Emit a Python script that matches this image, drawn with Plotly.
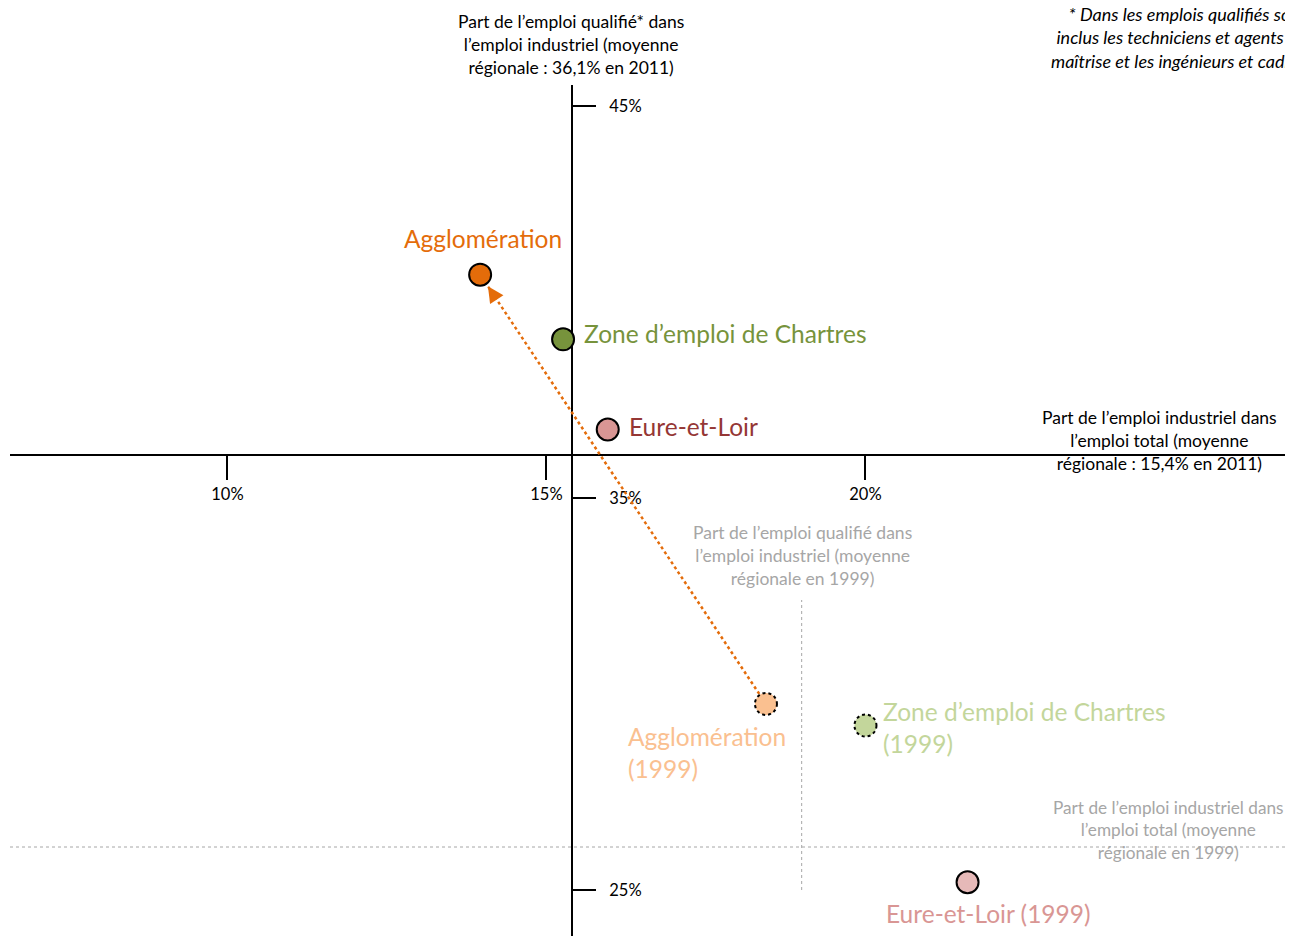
import plotly.graph_objects as go

# data
zones = ["Agglomération", "Zone d’emploi de Chartres", "Eure-et-Loir"]
ind_2011 = [13.96, 15.26, 15.96]     # part de l'emploi industriel dans l'emploi total (%)
qual_2011 = [40.7, 39.05, 36.75]     # part de l'emploi qualifié dans l'emploi industriel (%)
ind_1999 = [18.44, 20.0, 21.6]
qual_1999 = [29.75, 29.2, 25.2]

reg_ind_2011 = 15.4
reg_qual_2011 = 36.1
reg_ind_1999 = 19.0
reg_qual_1999 = 26.1

x_ticks = [10, 15, 20]
y_ticks = [25, 35, 45]

col_2011 = ["#E46C0A", "#77933C", "#D99694"]
lab_2011 = ["#E46C0A", "#77933C", "#953735"]
col_1999 = ["#FAC090", "#C3D69B", "#E6B9B8"]
lab_1999 = ["#FAC090", "#C3D69B", "#D99694"]

W, H = 1293, 936
OFF = 8          # page margin around the figure
FONT = "Lato"


def px(sx):
    return (sx - OFF) / W


def py(sy):
    return 1 - (sy - OFF) / H


# axis geometry (screen pixels)
x_px_per = 63.8
y_px_per = 39.2
x_cross = 572 - OFF
y_cross = 455 - OFF
x_dom_left = 10 - OFF
y_dom_top = 85 - OFF
x_range = [reg_ind_2011 - (x_cross - x_dom_left) / x_px_per,
           reg_ind_2011 + (W - x_cross) / x_px_per]
y_range = [reg_qual_2011 - (H - y_cross) / y_px_per,
           reg_qual_2011 + (y_cross - y_dom_top) / y_px_per]

fig = go.Figure()

# evolution of the agglomeration (dotted line)
fig.add_trace(go.Scatter(
    x=[ind_1999[0], ind_2011[0]], y=[qual_1999[0], qual_2011[0]],
    mode="lines", line=dict(color="#E46C0A", width=2.5, dash="dot"),
    hoverinfo="skip"))

fig.add_trace(go.Scatter(
    x=ind_1999, y=qual_1999, mode="markers",
    marker=dict(size=22, color=col_1999,
                line=dict(color=["rgba(0,0,0,0)", "rgba(0,0,0,0)", "black"], width=2)),
    text=zones, hoverinfo="text"))

fig.add_trace(go.Scatter(
    x=ind_2011, y=qual_2011, mode="markers",
    marker=dict(size=22, color=col_2011, line=dict(color="black", width=2)),
    text=zones, hoverinfo="text"))

# dotted outlines for two 1999 markers
for i in [0, 1]:
    fig.add_shape(type="circle", xref="x", yref="y",
                  xsizemode="pixel", ysizemode="pixel",
                  xanchor=ind_1999[i], yanchor=qual_1999[i],
                  x0=-11, x1=11, y0=-11, y1=11,
                  line=dict(color="black", width=2, dash="dot"))

# 1999 regional reference lines
fig.add_shape(type="line", xref="x", yref="paper",
              x0=reg_ind_1999, x1=reg_ind_1999, y0=py(890), y1=py(600),
              line=dict(color="#A6A6A6", width=1, dash="dot"), layer="below")
fig.add_shape(type="line", xref="paper", yref="y",
              x0=px(10), x1=1, y0=reg_qual_1999, y1=reg_qual_1999,
              line=dict(color="#A6A6A6", width=1, dash="dot"), layer="below")

# arrowhead at the 2011 end
dx = (ind_1999[0] - ind_2011[0]) * x_px_per
dy = (qual_1999[0] - qual_2011[0]) * y_px_per
norm = (dx ** 2 + dy ** 2) ** 0.5
L = 60
fig.add_annotation(x=ind_2011[0], y=qual_2011[0], xref="x", yref="y",
                   ax=dx / norm * L, ay=-dy / norm * L, axref="pixel", ayref="pixel",
                   text="", showarrow=True, arrowhead=2, arrowsize=1.6, arrowwidth=2,
                   arrowcolor="#E46C0A", standoff=14, startstandoff=34)

# point labels
labels_2011 = [
    dict(text=zones[0], xshift=3, yshift=36, xanchor="center"),
    dict(text=zones[1], xshift=19, yshift=6, xanchor="left"),
    dict(text=zones[2], xshift=19, yshift=3, xanchor="left"),
]
for i, lab in enumerate(labels_2011):
    fig.add_annotation(x=ind_2011[i], y=qual_2011[i], xref="x", yref="y",
                       showarrow=False, yanchor="middle", align="left",
                       font=dict(family=FONT, size=24.5, color=lab_2011[i]), **lab)

labels_1999 = [
    dict(text=zones[0] + "<br>(1999)", xshift=-140, yshift=-49, xanchor="left"),
    dict(text=zones[1] + "<br>(1999)", xshift=16, yshift=-2, xanchor="left"),
    dict(text=zones[2] + " (1999)", xshift=21, yshift=-31, xanchor="center"),
]
for i, lab in enumerate(labels_1999):
    fig.add_annotation(x=ind_1999[i], y=qual_1999[i], xref="x", yref="y",
                       showarrow=False, yanchor="middle", align="left",
                       font=dict(family=FONT, size=24.5, color=lab_1999[i]), **lab)

# axis titles and notes (screen position of the text centre / right edge)
notes = [
    ("Part de l’emploi qualifié* dans<br>l’emploi industriel (moyenne<br>régionale : 36,1% en 2011)",
     571, 45, "center", "black", 17.5, False),
    ("Part de l’emploi industriel dans<br>l’emploi total (moyenne<br>régionale : 15,4% en 2011)",
     1159, 440, "center", "black", 17.5, False),
    ("Part de l’emploi qualifié dans<br>l’emploi industriel (moyenne<br>régionale en 1999)",
     802, 555, "center", "#A6A6A6", 17.5, False),
    ("Part de l’emploi industriel dans<br>l’emploi total (moyenne<br>régionale en 1999)",
     1168, 830, "center", "#A6A6A6", 17.2, False),
    ("* Dans les emplois qualifiés sont<br>inclus les techniciens et agents de<br>maîtrise et les ingénieurs et cadres",
     1309, 38, "right", "black", 18, True),
]
for text, sx, sy, xa, color, size, italic in notes:
    fig.add_annotation(x=px(sx), y=py(sy), xref="paper", yref="paper",
                       text=f"<i>{text}</i>" if italic else text,
                       showarrow=False, xanchor=xa, yanchor="middle", align=xa,
                       font=dict(family=FONT, size=size, color=color))

fig.update_layout(
    width=W, height=H, autosize=False,
    margin=dict(l=0, r=0, t=0, b=0),
    plot_bgcolor="white", paper_bgcolor="white",
    showlegend=False,
    font=dict(family=FONT, size=16, color="black"),
    xaxis=dict(
        domain=[x_dom_left / W, 1], range=x_range,
        anchor="free", position=1 - y_cross / H,
        showgrid=False, zeroline=False,
        showline=True, linecolor="black", linewidth=2,
        ticks="outside", ticklen=24, tickwidth=2, tickcolor="black",
        tickvals=x_ticks, ticktext=[f"{v}%" for v in x_ticks],
        tickfont=dict(family=FONT, size=16.5, color="black"),
        layer="below traces",
    ),
    yaxis=dict(
        domain=[0, 1 - y_dom_top / H], range=y_range,
        anchor="free", position=x_cross / W, side="right",
        showgrid=False, zeroline=False,
        showline=True, linecolor="black", linewidth=2,
        ticks="outside", ticklen=23, tickwidth=2, tickcolor="black",
        tickvals=y_ticks, ticktext=[f"{v}%" for v in y_ticks],
        ticklabelstandoff=10,
        tickfont=dict(family=FONT, size=16.5, color="black"),
        layer="below traces",
    ),
)

fig.write_html("out.html")
